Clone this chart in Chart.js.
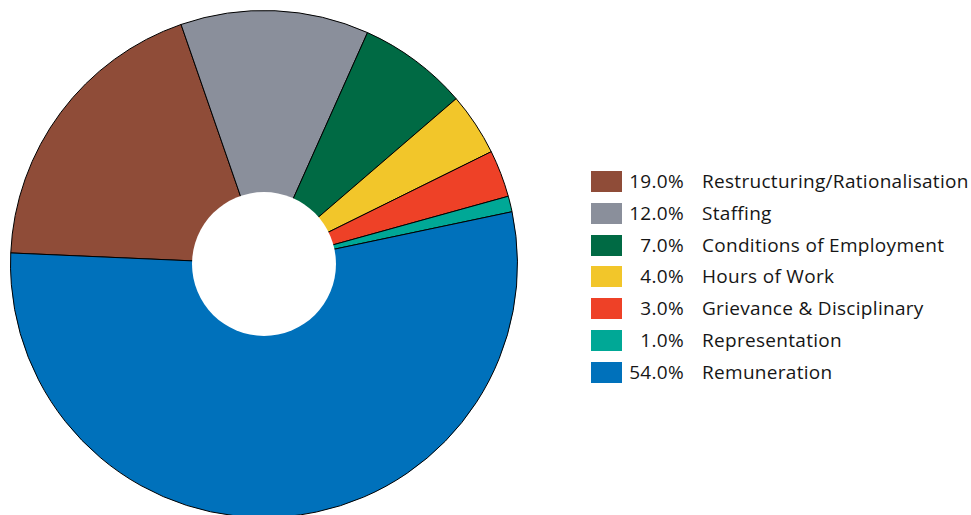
<!DOCTYPE html>
<html>
<head>
<meta charset="utf-8">
<script src="https://cdn.jsdelivr.net/npm/chart.js@4/dist/chart.umd.min.js"></script>
<style>
    html, body { margin: 0; padding: 0; background: #fff; overflow: hidden; }
    body { width: 971px; height: 515px; position: relative; }
    #pieWrap { position: absolute; left: 0; top: 0; width: 528px; height: 528px; }
    #legend { position: absolute; left: 591px; top: 171px; font-family: "Open Sans", sans-serif; font-size: 19px; letter-spacing: 0.3px; color: #161616; }
    .row { position: relative; height: 31.8px; }
    .box { position: absolute; left: 0; top: 0; width: 31px; height: 21px; }
    .pct { position: absolute; right: -93px; top: -1px; line-height: 22px; text-align: right; white-space: nowrap; }
    .name { position: absolute; left: 111px; top: -1px; line-height: 22px; white-space: nowrap; }
</style>
</head>
<body>
<div id="pieWrap"><canvas id="issuesChart"></canvas></div>
<div id="legend"></div>
<script>
// Share of issues by category (percent)
const categories = [
    'Restructuring/Rationalisation',
    'Staffing',
    'Conditions of Employment',
    'Hours of Work',
    'Grievance & Disciplinary',
    'Representation',
    'Remuneration'
];
const shares = [19.0, 12.0, 7.0, 4.0, 3.0, 1.0, 54.0];
const sliceColors = ['#8f4c38', '#8a8f9b', '#006a44', '#f2c62a', '#ee4127', '#00a896', '#0071bb'];

// white hole in the middle, drawn over the pie so it has no outline
const centerHole = {
    id: 'centerHole',
    afterDatasetsDraw: function(chart) {
        const arc = chart.getDatasetMeta(0).data[0];
        if (!arc) return;
        const ctx = chart.ctx;
        ctx.save();
        ctx.beginPath();
        ctx.arc(arc.x, arc.y, arc.outerRadius * 0.284, 0, Math.PI * 2);
        ctx.fillStyle = '#ffffff';
        ctx.fill();
        ctx.restore();
    }
};

new Chart(document.getElementById('issuesChart'), {
    type: 'pie',
    data: {
        labels: categories,
        datasets: [{
            data: shares,
            backgroundColor: sliceColors,
            borderColor: '#000000',
            borderWidth: 1
        }]
    },
    options: {
        responsive: true,
        maintainAspectRatio: false,
        animation: false,
        events: [],
        rotation: -87.5,
        layout: { padding: 10 },
        plugins: {
            legend: { display: false },
            tooltip: { enabled: false }
        }
    },
    plugins: [centerHole]
});

// legend on the right
const legend = document.getElementById('legend');
categories.forEach(function(name, i) {
    const row = document.createElement('div');
    row.className = 'row';
    row.innerHTML = '<div class="box" style="background:' + sliceColors[i] + '"></div>' +
        '<div class="pct">' + shares[i].toFixed(1) + '%</div>' +
        '<div class="name"></div>';
    row.querySelector('.name').textContent = name;
    legend.appendChild(row);
});
</script>
</body>
</html>
